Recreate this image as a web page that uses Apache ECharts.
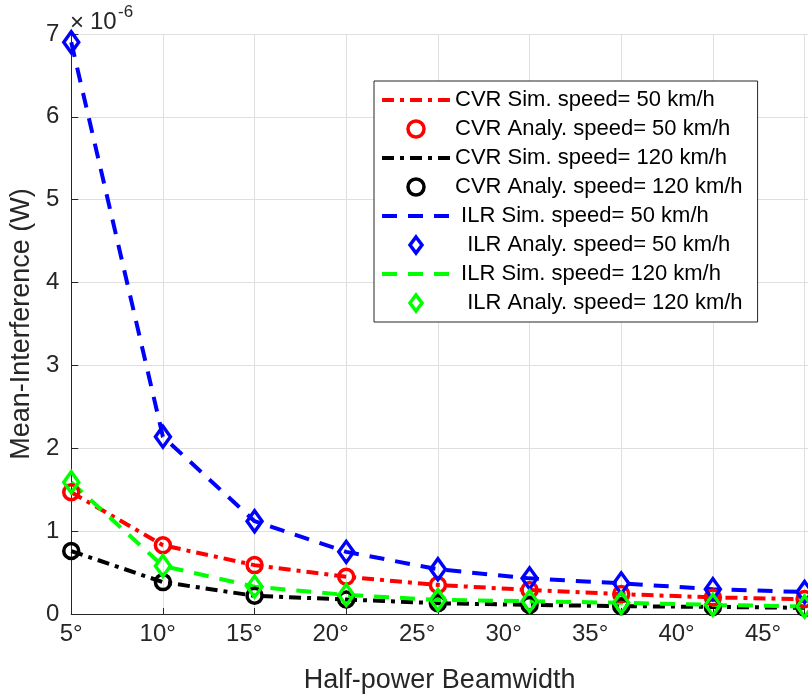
<!DOCTYPE html>
<html>
<head>
<meta charset="utf-8">
<script src="https://cdn.jsdelivr.net/npm/echarts@6/dist/echarts.min.js"></script>
<style>
html,body{margin:0;padding:0;background:#fff;}
#chart{width:808px;height:699px;}
</style>
</head>
<body>
<div id="chart"></div>
<script>
// Half-power beamwidth (degrees) of each sample
const xVals = [5, 10.3, 15.6, 20.9, 26.2, 31.5, 36.8, 42.1, 47.4];
// x tick labels
const xTickLabels = [5, 10, 15, 20, 25, 30, 35, 40, 45];
// y tick values (x 10^-6 W)
const yTicks = [0, 1, 2, 3, 4, 5, 6, 7];

// Mean interference, in units of 10^-6 W
const cvrSim50   = [1.47, 0.83, 0.59, 0.45, 0.35, 0.29, 0.24, 0.20, 0.18];
const cvrAna50   = [1.47, 0.83, 0.59, 0.45, 0.35, 0.29, 0.24, 0.20, 0.18];
const cvrSim120  = [0.76, 0.385, 0.22, 0.175, 0.13, 0.11, 0.095, 0.085, 0.075];
const cvrAna120  = [0.76, 0.385, 0.22, 0.175, 0.13, 0.11, 0.095, 0.085, 0.075];
const ilrSim50   = [6.90, 2.14, 1.12, 0.75, 0.54, 0.43, 0.37, 0.30, 0.265];
const ilrAna50   = [6.90, 2.14, 1.12, 0.75, 0.54, 0.43, 0.37, 0.30, 0.265];
const ilrSim120  = [1.59, 0.58, 0.33, 0.23, 0.17, 0.155, 0.135, 0.11, 0.09];
const ilrAna120  = [1.59, 0.58, 0.33, 0.23, 0.17, 0.155, 0.135, 0.11, 0.09];

const names = [
  'CVR Sim. speed= 50 km/h',
  'CVR Analy. speed= 50 km/h',
  'CVR Sim. speed= 120 km/h',
  'CVR Analy. speed= 120 km/h',
  ' ILR Sim. speed= 50 km/h',
  '  ILR Analy. speed= 50 km/h',
  ' ILR Sim. speed= 120 km/h',
  '  ILR Analy. speed= 120 km/h'
];

const FONT = 'Liberation Sans, Arial, Helvetica, sans-serif';
const AX = '#262626';
const GRID = '#dfdfdf';
const diamondIcon = 'path://M0,-10L7.5,0L0,10L-7.5,0Z';

function pairs(ys) { return xVals.map((x, i) => [x, ys[i]]); }

function simSeries(name, ys, color, dash) {
  return {
    name, type: 'line', data: pairs(ys), symbol: 'none',
    lineStyle: { color, width: 4, type: dash, cap: 'butt' },
    itemStyle: { color }, z: 2, animation: false
  };
}
function anaSeries(name, ys, color, symbol, size) {
  return {
    name, type: 'scatter', data: pairs(ys), symbol, symbolSize: size,
    itemStyle: { color: 'rgba(0,0,0,0)', borderColor: color, borderWidth: 3.5, opacity: 1 },
    z: 3, animation: false
  };
}

const legendData = names.map((n, i) => {
  if (i % 2 === 0) {
    return { name: n, itemStyle: { color: 'rgba(0,0,0,0)', borderWidth: 0, opacity: 0 } };
  }
  return i < 4 ? { name: n, icon: 'circle' } : { name: n, icon: diamondIcon };
});

const chart = echarts.init(document.getElementById('chart'), null, { renderer: 'canvas' });
chart.setOption({
  backgroundColor: '#fff',
  animation: false,
  grid: { left: 71, top: 34, right: 0, bottom: 84, containLabel: false },
  xAxis: {
    type: 'value', min: 5, max: 47.6,
    name: 'Half-power Beamwidth', nameLocation: 'middle', nameGap: 53,
    nameTextStyle: { fontFamily: FONT, fontSize: 27, color: AX },
    axisLine: { show: true, lineStyle: { color: AX, width: 1 } },
    axisTick: { show: true, inside: true, length: 6, customValues: xVals, lineStyle: { color: AX } },
    axisLabel: { customValues: xTickLabels, formatter: v => v + '°', fontFamily: FONT, fontSize: 24, color: AX, margin: 8 },
    splitLine: { show: true, lineStyle: { color: GRID, width: 1 } }
  },
  yAxis: {
    type: 'value', min: 0, max: 7, interval: 1,
    name: 'Mean-Interference (W)', nameLocation: 'middle', nameGap: 32,
    nameTextStyle: { fontFamily: FONT, fontSize: 27, color: AX },
    axisLine: { show: true, lineStyle: { color: AX, width: 1 } },
    axisTick: { show: true, inside: true, length: 7, lineStyle: { color: AX } },
    axisLabel: { fontFamily: FONT, fontSize: 24, color: AX, margin: 12, formatter: v => yTicks.includes(v) ? String(v) : '' },
    splitLine: { show: true, lineStyle: { color: GRID, width: 1 } }
  },
  legend: {
    data: legendData,
    orient: 'vertical', left: 374, top: 81,
    padding: [8, 15, 8, 6],
    itemWidth: 68, itemHeight: 16, itemGap: 7, itemTextGap: 4,
    backgroundColor: '#fff', borderColor: AX, borderWidth: 1,
    textStyle: { fontFamily: FONT, fontSize: 22, lineHeight: 22, color: '#000' },
    itemStyle: { borderWidth: 3.5 },
    lineStyle: { width: 4 },
    selectedMode: false
  },
  graphic: [
    { type: 'text', left: 70, top: 11, style: { text: '×', font: '24px ' + FONT, fill: AX } },
    { type: 'text', left: 90, top: 10, style: { text: '10', font: '24px ' + FONT, fill: AX } },
    { type: 'text', left: 118, top: 4, style: { text: '-6', font: '17px ' + FONT, fill: AX } }
  ],
  series: [
    simSeries(names[0], cvrSim50, '#ff0000', [12, 6, 4, 6]),
    anaSeries(names[1], cvrAna50, '#ff0000', 'circle', 15),
    simSeries(names[2], cvrSim120, '#000000', [12, 6, 4, 6]),
    anaSeries(names[3], cvrAna120, '#000000', 'circle', 15),
    simSeries(names[4], ilrSim50, '#0000ff', [15, 11]),
    anaSeries(names[5], ilrAna50, '#0000ff', 'diamond', [15, 21]),
    simSeries(names[6], ilrSim120, '#00ff00', [15, 11]),
    anaSeries(names[7], ilrAna120, '#00ff00', 'diamond', [15, 21])
  ]
});
</script>
</body>
</html>
